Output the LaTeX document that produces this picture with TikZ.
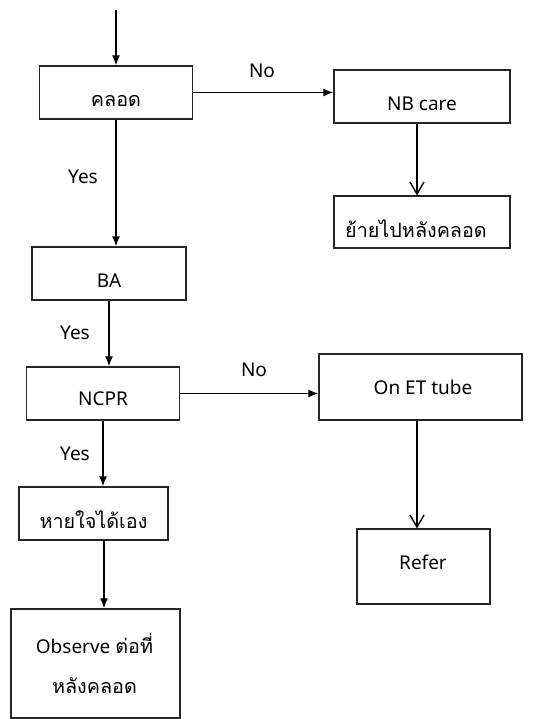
\documentclass[tikz,border=0pt]{standalone}
\usepackage{fontspec}
\setmainfont{Noto Sans}
\newfontfamily\thai[Script=Thai,Scale=1.04]{Loma}
\usetikzlibrary{arrows.meta}
\begin{document}
\begin{tikzpicture}[x=1pt,y=-1pt,
  box/.style={draw=black!85, line width=1.1pt, rectangle, inner sep=0pt},
  txt/.style={inner sep=0pt, align=center, font=\fontsize{19}{40}\selectfont},
  lbl/.style={inner sep=0pt, font=\fontsize{19}{22}\selectfont},
  flow/.style={line width=1.7pt, -{Latex[length=10pt,width=8pt]}},
  openflow/.style={line width=1.4pt, -{Straight Barb[length=12pt,width=14pt]}}]
\useasboundingbox (0,0) rectangle (534,719);

% boxes
\node[box, minimum width=153pt, minimum height=53pt] (clod)    at (116,92.5) {};
\node[box, minimum width=176pt, minimum height=53pt] (nbcare)  at (422,96.5) {};
\node[box, minimum width=176pt, minimum height=52pt] (move)    at (422,222) {};
\node[box, minimum width=154pt, minimum height=53pt] (ba)      at (109,273.5) {};
\node[box, minimum width=153pt, minimum height=53pt] (ncpr)    at (103,393.5) {};
\node[box, minimum width=203pt, minimum height=66pt] (et)      at (420.5,387) {};
\node[box, minimum width=133pt, minimum height=75pt] (refer)   at (423.5,566.5) {};
\node[box, minimum width=149pt, minimum height=53pt] (breath)  at (93.5,513.5) {};
\node[box, minimum width=169pt, minimum height=109pt] (observe) at (95.5,663.5) {};

% box texts
\node[txt] (clodT)    at (116,101)  {\thai คลอด};
\node[txt] (nbcareT)  at (422,104)  {NB care};
\node[txt] (moveT)    at (416,229)  {\thai ย้ายไปหลังคลอด};
\node[txt] (baT)      at (109,281)  {BA};
\node[txt] (ncprT)    at (103,399)  {NCPR};
\node[txt] (etT)      at (423,387)  {On ET tube};
\node[txt] (referT)   at (423,562)  {Refer};
\node[txt] (breathT)  at (93.5,520) {\thai หายใจได้เอง};
\node[txt] (observeT) at (94.5,663) {Observe {\thai ต่อที่}\\{\thai หลังคลอด}};

% connectors
\coordinate (start) at (116,10);
\draw[flow] (start) -- (start |- clod.north);
\draw[flow] (clod.east) -- (clod.east -| nbcare.west);
\draw[openflow] ([xshift=-5pt]nbcare.south) -- ([xshift=-5pt]move.north);
\draw[flow] (clod.south) -- (clod.south |- ba.north);
\draw[flow] (ba.south) -- (ba.south |- ncpr.north);
\draw[flow] (ncpr.east) -- (ncpr.east -| et.west);
\draw[openflow] ([xshift=-3.5pt,yshift=2pt]et.south) -- ([xshift=-3.5pt]et.south |- refer.north);
\draw[flow] (ncpr.south) -- (ncpr.south |- breath.north);
\draw[flow] ([xshift=10.5pt]breath.south) -- ([xshift=10.5pt]breath.south |- observe.north);

% branch labels
\node[lbl] (no1)  at (262,71)  {No};
\node[lbl] (yes1) at (83,177)  {Yes};
\node[lbl] (yes2) at (75,333)  {Yes};
\node[lbl] (no2)  at (254,370) {No};
\node[lbl] (yes3) at (75,454)  {Yes};
\end{tikzpicture}
\end{document}
